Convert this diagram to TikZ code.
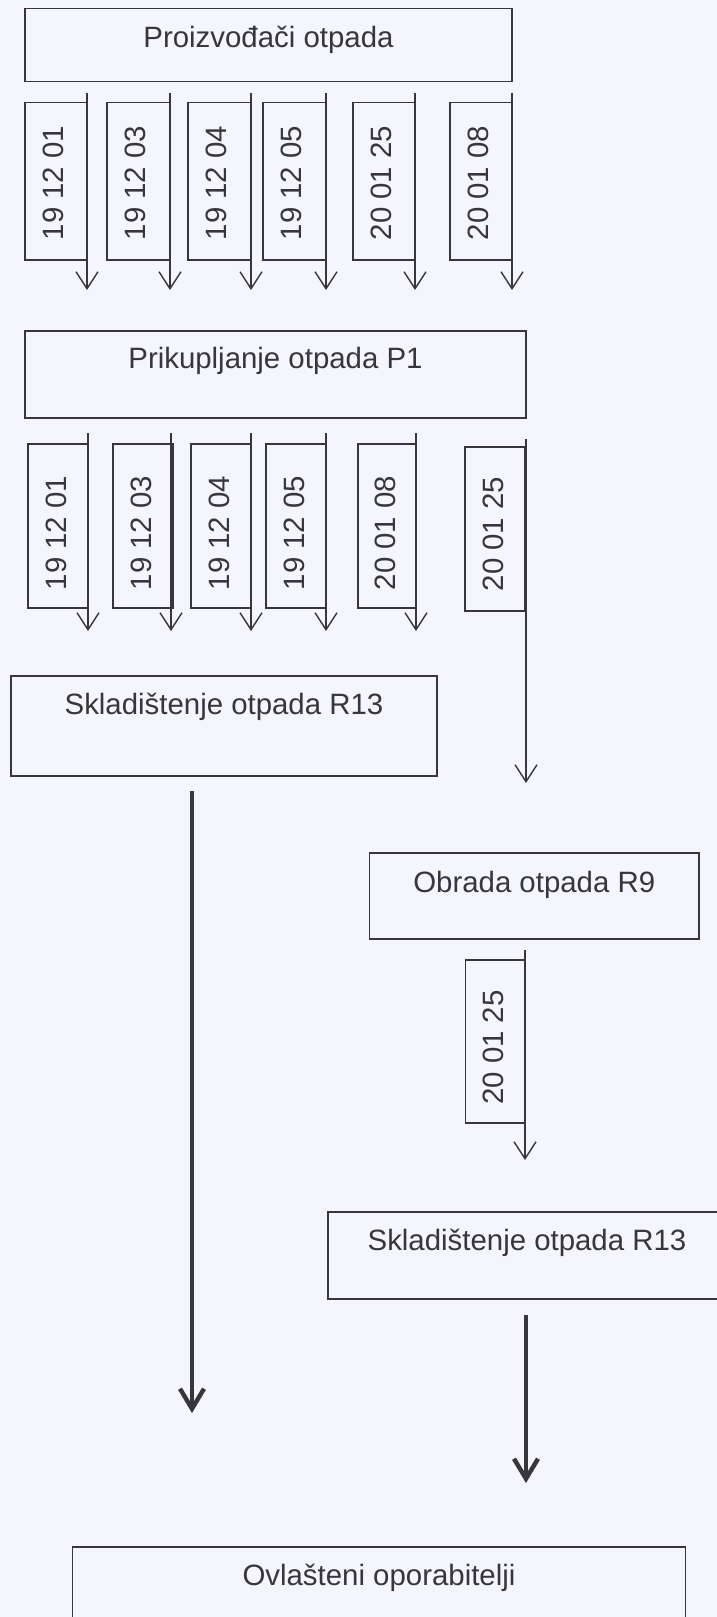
\documentclass[tikz,border=0pt]{standalone}
\usepackage{fontspec}
\setmainfont{Liberation Sans}
\usetikzlibrary{arrows.meta}
\definecolor{bg}{HTML}{F4F6FB}
\definecolor{ink}{HTML}{36363B}
\begin{document}
\begin{tikzpicture}[x=0.5pt,y=-0.5pt,
  box/.style={draw=ink, line width=0.65pt, inner sep=0pt, outer sep=0pt},
  lbl/.style={font=\fontsize{14.7}{17}\selectfont, text=ink, inner sep=0pt, anchor=base},
  code/.style={font=\fontsize{14.7}{17}\selectfont, text=ink, inner sep=0pt, rotate=90},
  flow/.style={draw=ink, line width=0.7pt, -{Straight Barb[length=8.5pt,width=11pt]}},
  bigflow/.style={draw=ink, line width=2.2pt, -{Straight Barb[length=10pt,width=12pt]}}]
\fill[bg] (0,0) rectangle (717,1617);
\useasboundingbox (0,0) rectangle (717,1617);
\clip (0,0) rectangle (717,1617);

% top box
\node[box, minimum width=243.5pt, minimum height=36.7pt] (prod) at (268.5,45) {};
\node[lbl] (prodT) at (268.5,47.3) {Proizvođači otpada};

% row 1 codes
\node[box, minimum width=31pt, minimum height=78.65pt] (r1b1) at (56,181.35) {};
\node[box, minimum width=31.5pt, minimum height=78.65pt] (r1b2) at (138.5,181.35) {};
\node[box, minimum width=31.5pt, minimum height=78.65pt] (r1b3) at (219.5,181.35) {};
\node[box, minimum width=31.5pt, minimum height=78.65pt] (r1b4) at (294.5,181.35) {};
\node[box, minimum width=31pt, minimum height=78.65pt] (r1b5) at (384,181.35) {};
\node[box, minimum width=31pt, minimum height=78.65pt] (r1b6) at (481,181.35) {};
\node[code] (r1t1) at (53,183) {19 12 01};
\node[code] (r1t2) at (135.5,183) {19 12 03};
\node[code] (r1t3) at (216.5,183) {19 12 04};
\node[code] (r1t4) at (291.5,183) {19 12 05};
\node[code] (r1t5) at (381,183) {20 01 25};
\node[code] (r1t6) at (478,183) {20 01 08};
\coordinate (r1s1) at (87,92.7);  \coordinate (r1e1) at (87,290);
\coordinate (r1s2) at (170,92.7); \coordinate (r1e2) at (170,290);
\coordinate (r1s3) at (251,92.7); \coordinate (r1e3) at (251,290);
\coordinate (r1s4) at (326,92.7); \coordinate (r1e4) at (326,290);
\coordinate (r1s5) at (415,92.7); \coordinate (r1e5) at (415,290);
\coordinate (r1s6) at (512,92.7); \coordinate (r1e6) at (512,290);
\draw[flow] (r1s1) -- (r1e1);
\draw[flow] (r1s2) -- (r1e2);
\draw[flow] (r1s3) -- (r1e3);
\draw[flow] (r1s4) -- (r1e4);
\draw[flow] (r1s5) -- (r1e5);
\draw[flow] (r1s6) -- (r1e6);

% collection box
\node[box, minimum width=250.5pt, minimum height=43.5pt] (coll) at (275.5,374.5) {};
\node[lbl] (collT) at (275.5,368) {Prikupljanje otpada P1};

% row 2 codes
\node[box, minimum width=30pt, minimum height=82pt] (r2b1) at (58,526) {};
\node[box, minimum width=30pt, minimum height=82pt] (r2b2) at (143,526) {};
\node[box, minimum width=30pt, minimum height=82pt] (r2b3) at (221,526) {};
\node[box, minimum width=30pt, minimum height=82pt] (r2b4) at (296,526) {};
\node[box, minimum width=29pt, minimum height=82pt] (r2b5) at (387,526) {};
\node[box, minimum width=30pt, minimum height=82pt] (r2b6) at (495,529) {};
\node[code] (r2t1) at (56,533) {19 12 01};
\node[code] (r2t2) at (141,533) {19 12 03};
\node[code] (r2t3) at (219,533) {19 12 04};
\node[code] (r2t4) at (294,533) {19 12 05};
\node[code] (r2t5) at (385,533) {20 01 08};
\node[code] (r2t6) at (493,534) {20 01 25};
\coordinate (r2s1) at (88,433);  \coordinate (r2e1) at (88,631);
\coordinate (r2s2) at (171,433); \coordinate (r2e2) at (171,631);
\coordinate (r2s3) at (251,433); \coordinate (r2e3) at (251,631);
\coordinate (r2s4) at (326,433); \coordinate (r2e4) at (326,631);
\coordinate (r2s5) at (416,433); \coordinate (r2e5) at (416,631);
\coordinate (r2s6) at (526,439); \coordinate (r2e6) at (526,783);
\draw[flow] (r2s1) -- (r2e1);
\draw[flow] (r2s2) -- (r2e2);
\draw[flow] (r2s3) -- (r2e3);
\draw[flow] (r2s4) -- (r2e4);
\draw[flow] (r2s5) -- (r2e5);
\draw[flow] (r2s6) -- (r2e6);

% storage left
\node[box, minimum width=213pt, minimum height=50pt] (stor1) at (224,726) {};
\node[lbl] (stor1T) at (224,714) {Skladištenje otpada R13};
\coordinate (bigLs) at (192,791); \coordinate (bigLe) at (192,1413);
\draw[bigflow] (bigLs) -- (bigLe);

% treatment
\node[box, minimum width=164.75pt, minimum height=43pt] (treat) at (534.25,896) {};
\node[lbl] (treatT) at (534.25,892) {Obrada otpada R9};
\node[box, minimum width=29.75pt, minimum height=81.5pt] (r3b1) at (495.25,1041.5) {};
\node[code] (r3t1) at (493,1047.5) {20 01 25};
\coordinate (r3s1) at (525,950); \coordinate (r3e1) at (525,1160);
\draw[flow] (r3s1) -- (r3e1);

% storage right
\node[box, minimum width=199pt, minimum height=43.5pt] (stor2) at (527,1255.5) {};
\node[lbl] (stor2T) at (527,1250) {Skladištenje otpada R13};
\coordinate (bigRs) at (526,1315); \coordinate (bigRe) at (526,1483);
\draw[bigflow] (bigRs) -- (bigRe);

% final
\node[box, minimum width=306.5pt, minimum height=46.5pt] (final) at (379,1593.5) {};
\node[lbl] (finalT) at (379,1585) {Ovlašteni oporabitelji};
\end{tikzpicture}
\end{document}
